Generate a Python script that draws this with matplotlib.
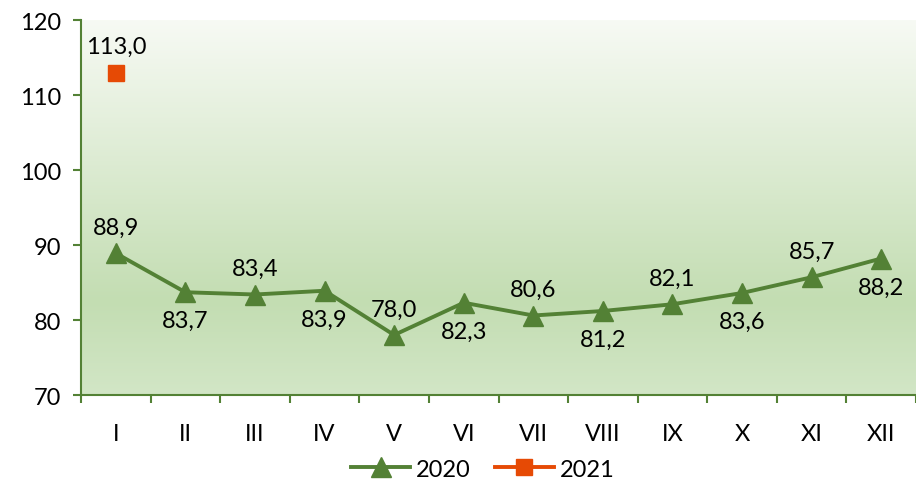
import matplotlib.pyplot as plt
import numpy as np
from matplotlib.colors import LinearSegmentedColormap
from matplotlib.lines import Line2D

months = ["I", "II", "III", "IV", "V", "VI", "VII", "VIII", "IX", "X", "XI", "XII"]
values_2020 = [88.9, 83.7, 83.4, 83.9, 78.0, 82.3, 80.6, 81.2, 82.1, 83.6, 85.7, 88.2]
values_2021 = [113.0]
# label above (+1) or below (-1) the point
label_pos_2020 = [1, -1, 1, -1, 1, -1, 1, -1, 1, -1, 1, -1]

green = "#538135"
orange = "#e64a05"

plt.rcParams["font.family"] = ["Lato", "DejaVu Sans"]
fs = 17

fig = plt.figure(figsize=(9.16, 4.85), dpi=100)
ax = fig.add_axes([81 / 916, 1 - 396 / 485, 835 / 916, 375 / 485])

x = np.arange(len(months))
ax.set_xlim(-0.5, len(months) - 0.5)
ax.set_ylim(70, 120)

# background gradient, light at top
cmap = LinearSegmentedColormap.from_list(
    "bg", [(0, "#f7faf4"), (0.75, "#c3ddb2"), (1, "#d2e6c6")])
grad = np.linspace(0, 1, 256).reshape(-1, 1)
ax.imshow(grad, cmap=cmap, aspect="auto", extent=[-0.5, len(months) - 0.5, 70, 120],
          origin="upper", zorder=0)

ax.plot(x, values_2020, color=green, linewidth=2.8, marker="^", markersize=14, zorder=3)
ax.plot(x[:len(values_2021)], values_2021, color=orange, linewidth=2.8, marker="s",
        markersize=11.5, linestyle="none", zorder=3)

for xi, v, p in zip(x, values_2020, label_pos_2020):
    txt = f"{v:.1f}".replace(".", ",")
    off = 11 if p > 0 else -13
    ax.annotate(txt, (xi, v), xytext=(0, off), textcoords="offset points",
                ha="center", va="bottom" if p > 0 else "top", fontsize=fs)
for xi, v in zip(x, values_2021):
    ax.annotate(f"{v:.1f}".replace(".", ","), (xi, v), xytext=(0, 11),
                textcoords="offset points", ha="center", va="bottom", fontsize=fs)

ax.set_yticks(range(70, 121, 10))
ax.set_xticks(x)
ax.set_xticklabels(months)
ax.set_xticks(np.arange(-0.5, len(months), 1), minor=True)
ax.tick_params(axis="x", which="major", length=0, pad=20, labelsize=fs)
ax.tick_params(axis="x", which="minor", length=6, width=1.5, color=green)
ax.tick_params(axis="y", length=6, width=1.5, color=green, labelsize=fs, pad=8)

for s in ["top", "right"]:
    ax.spines[s].set_visible(False)
for s in ["left", "bottom"]:
    ax.spines[s].set_color(green)
    ax.spines[s].set_linewidth(1.5)

handles = [
    Line2D([], [], color=green, linewidth=2.8, marker="^", markersize=14),
    Line2D([], [], color=orange, linewidth=2.8, marker="s", markersize=11.5),
]
fig.legend(handles=handles, labels=["2020", "2021"],
           loc="lower center", bbox_to_anchor=(0.527, -0.035), ncol=2,
           frameon=False, fontsize=fs, handlelength=2.5, columnspacing=1.0,
           handletextpad=0.25)

fig.savefig("out.png", dpi=100)
